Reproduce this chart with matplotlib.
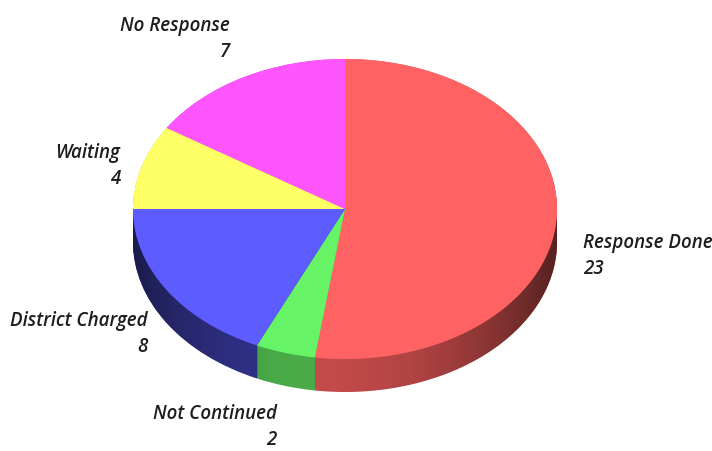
import numpy as np
import matplotlib.pyplot as plt
from matplotlib.patches import Polygon
from matplotlib.colors import to_rgb

labels = ['Response Done', 'Not Continued', 'District Charged', 'Waiting', 'No Response']
values = [23, 2, 8, 4, 7]
colors = ['#ff6262', '#66f466', '#5c5cff', '#ffff66', '#ff55ff']
side_dark = [0.85, 0.78, 0.6, 0.8, 0.8]

# label anchor positions in pixels (x, y of text centre), and alignment
label_pos = [(583, 256, 'left'), (277, 427, 'right'), (148, 334, 'right'),
             (120, 166, 'right'), (230, 39, 'right')]

W, H = 712, 452
cx, cy, rx, ry = 345, 210, 212, 150
depth = 33 / ry

fig = plt.figure(figsize=(W / 100, H / 100), dpi=100)
ax = fig.add_axes([0, 0, 1, 1])

side_colors = [tuple(c * k for c in to_rgb(col)) for col, k in zip(colors, side_dark)]

# side of the pie: stacked layers of darker pies
for d in np.linspace(depth, 0, 40):
    ax.pie(values, colors=side_colors, startangle=90, counterclock=False,
           center=(0, -d), radius=1, wedgeprops=dict(linewidth=0))

# horizontal shading on the side
t = np.radians(np.linspace(90, 270, 200))
upper = np.column_stack([np.sin(t), np.cos(t)])
lower = upper + [0, -depth]
band = Polygon(np.vstack([lower, upper[::-1]]), closed=True,
               facecolor='none', edgecolor='none')
ax.add_patch(band)
xs = np.linspace(-1, 1, 400)
alpha = np.clip(0.1 + 0.5 * ((xs + 0.2) / 1.2) ** 2, 0, 1)
alpha[xs < -0.2] = 0.1 + 0.4 * ((xs[xs < -0.2] + 0.2) / 0.8) ** 2
grad = np.zeros((1, len(xs), 4))
grad[..., 3] = alpha
im = ax.imshow(grad, extent=(-1, 1, -1 - depth, 0), aspect='auto', zorder=5)
im.set_clip_path(band)

# top face
wedges, _ = ax.pie(values, colors=colors, startangle=90, counterclock=False,
                   radius=1, wedgeprops=dict(linewidth=0))
for w in wedges:
    w.set_zorder(10)

ax.set_aspect('auto')
ax.set_xlim(-cx / rx, (W - cx) / rx)
ax.set_ylim((cy - H) / ry, cy / ry)
ax.axis('off')

for lab, val, (px, py, ha) in zip(labels, values, label_pos):
    ax.text((px - cx) / rx, (cy - py) / ry, f'{lab}\n{val}', ha=ha, va='center',
            multialignment=ha, fontsize=13.5, style='italic', weight='semibold',
            family='Open Sans', color='#1e1e1e', linespacing=1.45, zorder=20)

fig.savefig('out.png', dpi=100)
